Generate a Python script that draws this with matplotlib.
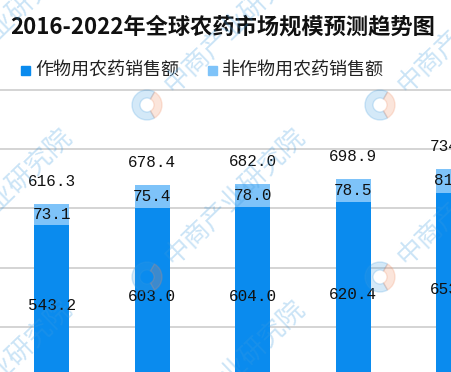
import numpy as np
import matplotlib.pyplot as plt
from matplotlib.patches import Rectangle, Wedge

plt.rcParams['font.family'] = ['Noto Sans CJK SC', 'DejaVu Sans']

# data (2016-2022), only the first five bars show in the crop
years = ['2016', '2017', '2018', '2019', '2020', '2021', '2022']
crop_sales = [543.2, 603.0, 604.0, 620.4, 653.1]
noncrop_sales = [73.1, 75.4, 78.0, 78.5, 81.5]
totals = [616.3, 678.4, 682.0, 698.9, 734.6]
series_names = ['作物用农药销售额', '非作物用农药销售额']
title = '2016-2022年全球农药市场规模预测趋势图'

DARK = '#0A8BEE'
LIGHT = '#7EC3F9'
W, H = 452, 372

fig = plt.figure(figsize=(W / 100, H / 100), dpi=100)
# axes runs past the image edges (the reference is a crop)
ax = fig.add_axes([0, -14 / H, 1, 296 / H])
ax.set_ylim(0, 1000)
ax.set_xlim(-0.514, 3.983)
for s in ax.spines.values():
    s.set_visible(False)
ax.set_xticks([])
ax.set_yticks([])
for g in range(200, 1001, 200):
    ax.axhline(g, color='#C9C9C9', lw=1.1, zorder=0, clip_on=False)

x = np.arange(len(crop_sales))
bw = 0.348
ax.bar(x, crop_sales, bw, color=DARK, zorder=2)
ax.bar(x, noncrop_sales, bw, bottom=crop_sales, color=LIGHT, zorder=2)

num_font = dict(family='Liberation Mono', fontsize=11.5, color='#111111')
for xi, c, n, t in zip(x, crop_sales, noncrop_sales, totals):
    ax.text(xi, c / 2, f'{c:.1f}', ha='center', va='center', zorder=4, **num_font)
    ax.text(xi, c + n / 2, f'{n:.1f}', ha='center', va='center', zorder=4, **num_font)
    ax.annotate(f'{t:.1f}', (xi, t), xytext=(0, 16), textcoords='offset points',
                ha='center', va='center', zorder=4, annotation_clip=False, **num_font)

# title and legend
fig.text(10 / W, 1 - 27 / H, title, fontsize=16, fontweight='bold',
         ha='left', va='center', color='#111111')
leg = [(21, DARK, series_names[0]), (208, LIGHT, series_names[1])]
for lx, col, name in leg:
    fig.add_artist(Rectangle((lx / W, 1 - 74.5 / H), 9 / W, 9 / H,
                             transform=fig.transFigure, color=col))
    fig.text((lx + 14) / W, 1 - 70 / H, name, fontsize=13,
             ha='left', va='center', color='#222222')

# faint watermarks (logo + diagonal text), in pixel coords from top-left
wm = '中商产业研究院'
for cx in (2, 235, 468):
    for cy in (25, 197, 369):
        fig.text(cx / W, 1 - cy / H, wm, fontsize=19, rotation=44,
                 color='#3d9be0', alpha=0.27, ha='center', va='center',
                 rotation_mode='anchor', zorder=10)
        lx, ly = cx - 88, cy + 80
        fig.add_artist(Wedge((lx, H - ly), 15, 60, 300, width=8,
                             transform=None, color='#3d9be0', alpha=0.22, zorder=10))
        fig.add_artist(Wedge((lx, H - ly), 15, 300, 60, width=8,
                             transform=None, color='#f08a5d', alpha=0.22, zorder=10))

fig.savefig('out.png', dpi=100)
